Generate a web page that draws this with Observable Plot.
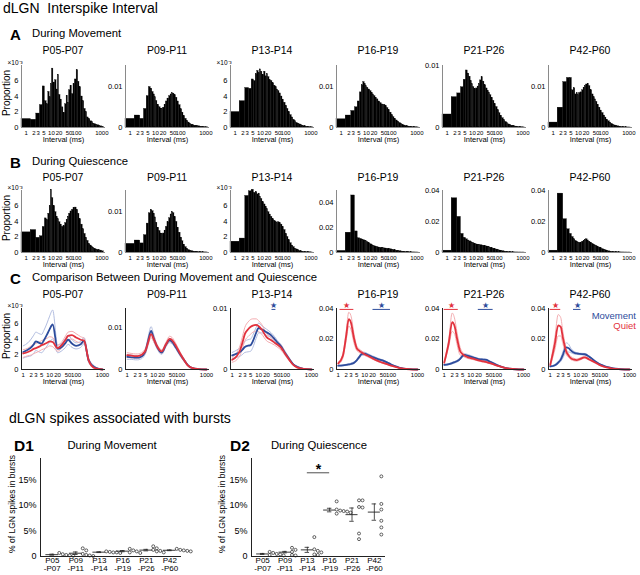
<!DOCTYPE html>
<html><head><meta charset="utf-8">
<script src="https://cdn.jsdelivr.net/npm/d3@7"></script>
<script src="https://cdn.jsdelivr.net/npm/@observablehq/plot@0.6"></script>
<style>
body{margin:0;background:#fff;}
#root{position:relative;width:640px;height:575px;overflow:hidden;font-family:"Liberation Sans",Arial,Helvetica,sans-serif;color:#000;background:#fff;}
.t{position:absolute;white-space:pre;line-height:1;}
</style></head><body><div id="root"></div>
<script>
// ---------------- DATA ----------------
const groups = ["P05-P07","P09-P11","P13-P14","P16-P19","P21-P26","P42-P60"];
const xTicks = [1,2,3,5,10,20,50,100,1000];
// histogram bin edges (ms)
const binEdges = [0.65,1.5,2.5,3.5,4.5,5.5,6.5,7.5,8.5,9.5,10.5,12,14,16,18,20,23,26,30,35,40,45,50,57,65,75,85,100,115,130,150,175,200,230,260,300,350,400,450,500,570,650,750,850,1000,1200];
// A: During Movement, proportion x 1e-3 per bin
const moveP05 = [1.1,1.0,1.8,2.9,5.3,3.4,3.0,4.6,3.9,5.6, 7.6,5.8,6.1,4.9,6.8,4.2,3.6,2.6,1.9,3.0, 4.1,3.2,4.8,5.4,4.3,5.6,6.2,7.4,5.9,5.2, 4.0,3.4,2.4,2.0,1.3,1.1,0.8,0.7,0.5,0.45, 0.35,0.3,0.25,0.15,0.1];
const moveP09 = [2.1,2.9,2.1,4.5,7.6,9.8,9.4,8.6,8.0,7.3, 6.4,5.5,4.9,4.6,4.5,4.8,5.5,6.3,7.0,7.6, 8.0,8.3,8.2,7.8,7.2,6.3,5.4,4.4,3.6,2.8, 2.1,1.6,1.2,0.9,0.7,0.55,0.45,0.4,0.3,0.3, 0.2,0.2,0.12,0.1,0.05];
const moveP13 = [2.0,3.4,5.1,5.0,6.2,6.0,6.9,7.3,7.0,7.5, 7.2,6.8,7.2,6.6,6.9,6.5,6.1,6.0,5.7,5.4, 5.2,4.9,4.7,4.4,4.0,3.6,3.2,2.8,2.4,2.0, 1.6,1.3,1.0,0.8,0.6,0.5,0.4,0.3,0.25,0.2, 0.15,0.1,0.08,0.05,0.03];
const moveP16 = [2.0,2.9,4.0,4.9,6.3,8.5,10.2,11.0,10.5,10.0, 9.6,9.2,8.8,8.4,8.0,7.6,7.2,6.8,6.3,5.9, 5.6,5.4,5.5,5.2,4.7,4.2,3.6,3.0,2.5,2.1, 1.7,1.4,1.1,0.9,0.7,0.5,0.4,0.3,0.25,0.2, 0.15,0.1,0.08,0.05,0.03];
const moveP21 = [2.1,4.9,5.5,6.5,7.7,9.2,8.7,8.2,7.5,7.0, 6.5,6.2,6.3,6.6,7.0,7.6,8.1,7.4,6.8,6.3, 5.9,5.6,5.2,4.8,4.3,3.8,3.3,2.8,2.3,1.9, 1.5,1.2,0.9,0.7,0.5,0.4,0.3,0.25,0.2,0.15, 0.1,0.08,0.05,0.03,0.02];
const moveP42 = [1.2,4.8,11.0,12.0,12.0,9.0,9.5,8.0,8.3,7.8, 8.3,8.5,9.0,9.6,10.0,10.4,10.6,10.0,9.0,8.0, 7.3,6.8,6.2,5.5,4.8,4.1,3.5,2.9,2.4,1.9, 1.5,1.2,0.9,0.7,0.5,0.4,0.3,0.22,0.16,0.12, 0.09,0.06,0.04,0.02,0.01];
// B: During Quiescence
const quietP05 = [2.6,2.9,1.9,2.1,3.3,4.4,4.2,5.0,6.0,8.1, 7.0,6.0,5.2,4.6,4.3,3.9,3.6,3.3,3.4,3.8, 4.2,4.6,5.0,5.3,5.5,5.7,5.8,5.5,5.0,4.3, 3.6,3.0,2.4,1.9,1.5,1.1,0.9,0.7,0.6,0.5, 0.4,0.35,0.3,0.25,0.15];
const quietP09 = [2.1,2.9,2.2,4.2,7.0,9.5,10.3,10.0,9.4,8.5, 7.2,6.0,5.2,4.6,4.4,4.6,5.3,6.2,7.3,8.3, 9.2,9.8,9.5,8.6,7.4,6.0,4.8,3.6,2.7,1.9, 1.3,0.9,0.6,0.45,0.35,0.25,0.2,0.15,0.12,0.1, 0.08,0.06,0.04,0.03,0.02];
const quietP13 = [1.4,1.8,7.3,7.9,8.1,7.7,7.8,7.5,7.6,7.2, 6.9,6.5,6.2,5.9,5.6,5.2,4.9,4.6,4.3,4.1, 3.9,3.8,3.9,3.8,3.6,3.3,2.9,2.4,2.0,1.6, 1.2,0.9,0.7,0.5,0.4,0.3,0.2,0.15,0.1,0.08, 0.06,0.04,0.03,0.02,0.01];
const quietP16 = [1.3,16,46,17,11.5,11.0,10.5,10.0,9.5,9.0, 8.3,7.5,6.6,6.0,5.5,5.0,4.6,4.3,4.0,3.8, 3.6,3.4,3.3,3.2,3.0,2.8,2.6,2.3,2.0,1.8, 1.5,1.3,1.1,0.9,0.7,0.5,0.4,0.3,0.25,0.2, 0.15,0.1,0.07,0.05,0.02];
const quietP21 = [1.2,35,23,12,9.5,8.5,7.8,7.2,6.8,6.4, 6.0,5.6,5.2,5.0,4.8,4.7,4.6,4.4,4.2,3.9, 3.6,3.4,3.1,2.8,2.5,2.2,1.9,1.6,1.3,1.1, 0.9,0.7,0.5,0.4,0.3,0.2,0.15,0.1,0.08,0.06, 0.04,0.03,0.02,0.01,0.01];
const quietP42 = [1.2,38,21.5,15,12,10,8.5,7.5,7.0,6.5, 6.2,6.4,7.0,7.6,8.2,8.5,7.8,7.0,6.3,5.6, 5.0,4.6,4.2,3.7,3.2,2.7,2.2,1.8,1.4,1.1, 0.8,0.6,0.45,0.35,0.25,0.2,0.15,0.1,0.08,0.06, 0.04,0.03,0.02,0.01,0.01];
// C: mean +/- sem curves, proportion x 1e-3
const cInterval = [1,1.5,2,2.5,3,4,5,6,8,10,13,20,30,40,50,70,100,150,200,300,500,1000];
const cMoveP05 = [2.3,2.6,2.9,3.3,3.7,3.5,3.4,3.8,4.6,5.3,5.9,2.7,3.0,3.5,3.9,3.4,3.1,3.3,3.8,1.2,0.3,0];
const cMoveSemP05 = [0.8,0.9,1.1,1.2,1.2,1.2,1.2,1.3,1.5,1.7,1.9,0.5,0.5,0.6,0.6,0.5,0.4,0.4,0.4,0.3,0.15,0];
const cQuietP05 = [2.1,2.3,2.5,2.7,2.8,3.0,3.2,3.3,3.5,3.7,3.6,2.8,3.3,3.9,4.4,4.5,4.2,3.9,3.8,1.2,0.2,0];
const cQuietSemP05 = [0.5,0.5,0.6,0.6,0.6,0.6,0.6,0.6,0.6,0.6,0.6,0.4,0.4,0.5,0.5,0.5,0.5,0.4,0.3,0.2,0.1,0];
const cMoveP09 = [3.0,2.9,2.8,2.8,2.9,3.4,4.5,6.5,9.2,7.5,5.6,4.0,6.0,6.9,6.6,5.2,3.6,2.0,1.0,0.3,0.1,0];
const cMoveSemP09 = [0.6,0.5,0.5,0.5,0.5,0.5,0.6,0.8,1.0,0.8,0.5,0.4,0.5,0.5,0.5,0.4,0.4,0.3,0.2,0.1,0.05,0];
const cQuietP09 = [3.4,3.3,3.2,3.2,3.3,3.8,4.6,6.2,8.4,7.3,5.7,4.3,6.1,7.3,7.0,5.6,3.8,2.0,0.9,0.3,0.1,0];
const cQuietSemP09 = [0.6,0.5,0.5,0.5,0.5,0.5,0.6,0.7,0.8,0.7,0.5,0.4,0.5,0.6,0.6,0.5,0.4,0.3,0.2,0.1,0.05,0];
const cMoveP13 = [2.3,2.6,2.9,3.3,3.7,3.9,4.0,4.6,6.0,6.8,6.6,6.1,5.6,5.0,4.5,3.8,2.7,1.6,0.9,0.4,0.1,0];
const cMoveSemP13 = [0.5,0.6,0.7,0.8,0.9,1.0,1.0,1.0,0.9,0.8,0.6,0.5,0.4,0.4,0.3,0.3,0.3,0.2,0.1,0.1,0.05,0];
const cQuietP13 = [1.6,2.2,3.2,4.6,5.8,6.6,7.0,7.2,7.3,7.1,6.6,5.3,4.8,4.4,4.1,3.6,2.6,1.5,0.8,0.3,0.1,0];
const cQuietSemP13 = [0.4,0.6,0.8,1.0,1.1,1.2,1.2,1.1,1.0,0.9,0.8,0.6,0.5,0.4,0.4,0.4,0.3,0.2,0.1,0.1,0.05,0];
const cMoveP16 = [2.5,2.7,3.0,3.3,3.6,4.5,6.0,7.8,10.2,10.4,9.6,8.2,7.0,6.3,5.8,4.7,3.3,2.0,1.3,0.6,0.2,0];
const cMoveSemP16 = [0.3,0.3,0.4,0.4,0.5,0.6,0.7,0.8,0.9,0.9,0.8,0.7,0.6,0.5,0.5,0.4,0.3,0.2,0.1,0.1,0.05,0];
const cQuietP16 = [4,9,22,33,31,20,14,12.5,11,10,9,7.3,5.8,4.9,4.3,3.5,2.6,1.7,1.1,0.5,0.15,0];
const cQuietSemP16 = [0.8,1.5,3,4.5,4.5,3,1.5,1.2,1,0.8,0.7,0.6,0.5,0.4,0.4,0.3,0.3,0.2,0.1,0.1,0.05,0];
const cMoveP21 = [3,3.5,4.2,4.8,5.4,7,9,9.5,9,8.5,7.8,6.8,6.5,6.3,5.4,4.2,2.9,1.7,1.1,0.5,0.15,0];
const cMoveSemP21 = [0.4,0.4,0.5,0.5,0.6,0.7,0.8,0.8,0.8,0.7,0.6,0.5,0.5,0.5,0.4,0.4,0.3,0.2,0.1,0.1,0.05,0];
const cQuietP21 = [4.5,18,31,28,21,12,10,9,8,7.5,7,6,5.3,4.8,4.3,3.5,2.6,1.7,1.1,0.5,0.15,0];
const cQuietSemP21 = [1,2.5,6,5,4,2.5,1.2,1,0.8,0.7,0.6,0.5,0.5,0.4,0.4,0.3,0.3,0.2,0.1,0.1,0.05,0];
const cMoveP42 = [2,2.8,4.5,6.5,9.5,14.5,14,12.5,11,10.5,10.2,10,8.4,6.8,5.4,3.8,2.6,1.5,1.0,0.5,0.15,0];
const cMoveSemP42 = [0.3,0.5,0.8,1.2,2,3,2.5,1.5,0.8,0.6,0.5,0.5,0.5,0.4,0.4,0.3,0.2,0.1,0.1,0.05,0.02,0];
const cQuietP42 = [3,17,29,28,21,12,9,7.5,6.5,6.2,6.8,8.0,6.6,5.5,4.6,3.2,2.1,1.3,0.8,0.4,0.1,0];
const cQuietSemP42 = [1,4,7,6,4,2,1.2,1,0.8,0.7,0.7,0.6,0.5,0.4,0.4,0.3,0.2,0.1,0.1,0.05,0.02,0];
// C significance bars: panel index, series, interval range (ms)
const cSigPanel = [2, 3, 3, 4, 4, 5, 5];
const cSigSeries = ["Movement","Quiet","Movement","Quiet","Movement","Quiet","Movement"];
const cSigFrom = [32, 1.17, 20.7, 1.0, 19.5, 1.0, 7.6];
const cSigTo = [45, 3.9, 95, 3.4, 71, 2.5, 14.6];
// D: % of spikes in bursts (per animal), group means and SEM
const d1Points = [[0.7,0.45,0.3,0.2,0.15],[1.6,1.2,0.5,0.3,0.2,0.1],[1.0,0.9,0.8,0.7,0.8],[1.5,1.2,1.0,0.8,0.7],[2.0,1.6,1.3,1.0,0.8,1.1],[1.5,1.3,1.2,1.1,1.0]];
const d1Mean = [0.36,0.64,0.85,1.05,1.25,1.22];
const d1Sem = [0.1,0.25,0.08,0.12,0.15,0.08];
const d2Points = [[0.9,0.7,0.5,0.4,0.3,0.2],[1.7,1.3,0.9,0.3,0.2],[3.8,1.4,1.1,0.8,0.4,0.3],[10.8,9.2,9.0,8.8,8.9,8.6,8.4],[11.0,11.0,9.6,9.7,4.5,3.4],[15.7,10.3,9.2,7.0,5.7,4.3]];
const d2Mean = [0.5,0.85,1.3,9.1,8.2,8.7];
const d2Sem = [0.1,0.15,0.5,0.35,1.3,1.6];
const d2SigFrom = 2, d2SigTo = 3, d2SigLevel = 16.4;

// ---------------- LAYOUT ----------------
const root = document.getElementById("root");
const FONT = '"Liberation Sans", Arial, Helvetica, sans-serif';
const BLUE = "#2d4c9c", RED = "#e2323d", LBLUE = "#b2bde0", LRED = "#f4adb1";
function txt(s, x, y, o = {}) {
  const d = document.createElement("div");
  d.className = "t"; d.textContent = s;
  d.style.left = x + "px"; d.style.top = y + "px";
  d.style.fontSize = (o.size || 10) + "px";
  if (o.bold) d.style.fontWeight = "bold";
  if (o.color) d.style.color = o.color;
  const ax = o.anchor === "middle" ? "-50%" : o.anchor === "end" ? "-100%" : "0";
  d.style.transform = o.rotate ? `translate(-50%,-50%) rotate(${o.rotate}deg)` : `translate(${ax},-50%)`;
  root.appendChild(d);
}
function place(svg, x, y) {
  svg.style.position = "absolute"; svg.style.left = x + "px"; svg.style.top = y + "px";
  // tighten the dense log-axis tick labels
  svg.querySelectorAll('[aria-label="x tick label"] text').forEach(t => { t.style.letterSpacing = "-0.45px"; });
  root.appendChild(svg);
}
const panelX = [21, 125, 230, 336, 442, 548];
const PW = 84;
const ML = 30, MR = 8, MT = 14, MB = 22;
const styleObj = {background: "transparent", overflow: "visible", fontFamily: FONT, fontSize: "7px", color: "#000"};
const XH = [0.65, 1400];
const XC = [0.86, 1300];

function yCfg(kind) {
  if (kind === "e3") return {domain: [0, 0.008], ticks: [0, 0.002, 0.004, 0.006], fmt: d => String(Math.round(d * 1000)), e3: true};
  if (kind === "01") return {domain: [0, 0.015], ticks: [0, 0.005, 0.01], fmt: d => d === 0 ? "0" : d === 0.005 ? "" : String(d)};
  if (kind === "01c") return {domain: [0, 0.0145], ticks: [0, 0.005, 0.01], fmt: d => d === 0 ? "0" : d === 0.005 ? "" : String(d)};
  if (kind === "01t") return {domain: [0, 0.01], ticks: [0, 0.005, 0.01], fmt: d => d === 0 ? "0" : d === 0.005 ? "" : String(d)};
  if (kind === "05") return {domain: [0, 0.05], ticks: [0, 0.02, 0.04], fmt: d => d === 0 ? "0" : String(d)};
  return {domain: [0, 0.04], ticks: [0, 0.02, 0.04], fmt: d => d === 0 ? "0" : String(d)};
}
function axesMarks(cfg) {
  return [
    // x tick labels drawn through the x scale (log axis would otherwise drop 5 and 50)
    Plot.text(xTicks, {x: d => d, text: d => String(d), frameAnchor: "bottom", lineAnchor: "top", dy: 3.5, fontSize: 6, fill: "#000", ariaLabel: "x tick label"}),
    Plot.axisY({ticks: cfg.ticks, tickSize: 0, tickPadding: 3, fontSize: 7.5, fill: "#000", tickFormat: cfg.fmt, label: null}),
    Plot.text(["Interval (ms)"], {text: d => d, frameAnchor: "bottom", dy: 14.5, fontSize: 7.5, fill: "#000"}),
    cfg.e3 ? Plot.text(["×10⁻³"], {text: d => d, frameAnchor: "top-left", dx: -14, dy: -5, fontSize: 6.5, fill: "#000"}) : null
  ];
}
function histPanel(vals, kind, left, top, PH) {
  const cfg = yCfg(kind);
  const rows = vals.map((v, i) => ({x1: binEdges[i], x2: binEdges[i + 1], y: v * 1e-3}));
  const svg = Plot.plot({
    width: ML + PW + MR, height: MT + PH + MB,
    marginLeft: ML, marginRight: MR, marginTop: MT, marginBottom: MB,
    style: styleObj,
    x: {type: "log", domain: XH, axis: null},
    y: {domain: cfg.domain},
    marks: [
      Plot.rectY(rows, {x1: "x1", x2: "x2", y1: 0, y2: "y", fill: "black", stroke: "black", strokeWidth: 0.3}),
      Plot.ruleX([XH[0]], {stroke: "#8a8a8a", strokeWidth: 1}),
      Plot.ruleY([0], {stroke: "#8a8a8a"}),
      ...axesMarks(cfg)
    ]
  });
  place(svg, left - ML, top - MT);
}
function cPanel(k, mv, mvs, qt, qts, kind, left, top, PH) {
  const cfg = yCfg(kind);
  const mk = (arr, sem, sgn) => cInterval.map((x, j) => ({x, y: (arr[j] + sgn * (sem ? sem[j] : 0)) * 1e-3}));
  const sig = cSigPanel.map((p, j) => ({p, s: cSigSeries[j], a: cSigFrom[j], b: cSigTo[j]})).filter(d => d.p === k);
  const top0 = cfg.domain[1];
  const lineOpts = {x: "x", y: "y", curve: "monotone-x"};
  const svg = Plot.plot({
    width: ML + PW + MR, height: MT + PH + MB,
    marginLeft: ML, marginRight: MR, marginTop: MT, marginBottom: MB,
    style: styleObj,
    x: {type: "log", domain: XC, axis: null},
    y: {domain: cfg.domain},
    marks: [
      Plot.line(mk(mv, mvs, 1), {...lineOpts, stroke: LBLUE, strokeWidth: 1}),
      Plot.line(mk(mv, mvs, -1), {...lineOpts, stroke: LBLUE, strokeWidth: 1}),
      Plot.line(mk(qt, qts, 1), {...lineOpts, stroke: LRED, strokeWidth: 1}),
      Plot.line(mk(qt, qts, -1), {...lineOpts, stroke: LRED, strokeWidth: 1}),
      Plot.line(mk(mv, null, 0), {...lineOpts, stroke: BLUE, strokeWidth: 1.8}),
      Plot.line(mk(qt, null, 0), {...lineOpts, stroke: RED, strokeWidth: 1.8}),
      Plot.ruleX([XC[0]], {stroke: "#222"}),
      Plot.ruleY([0], {stroke: "#222"}),
      Plot.ruleY(sig, {y: () => top0 * 0.985, x1: "a", x2: "b", stroke: d => d.s === "Quiet" ? RED : BLUE, strokeWidth: 1}),
      Plot.text(sig, {x: d => Math.sqrt(d.a * d.b), y: () => top0, text: () => "★", dy: -3, fontSize: 8, fill: d => d.s === "Quiet" ? RED : BLUE}),
      ...axesMarks(cfg)
    ]
  });
  place(svg, left - ML, top - MT);
}
function dPanel(pts, means, sems, left, top, fw, sig) {
  const DML = 40, DMT = 10, FH = 98, DMB = 19, DMR = 6;
  const bw = fw / 6;
  const rows = [];
  pts.forEach((arr, i) => {
    const placed = [];
    [...arr].sort((a, b) => b - a).forEach(v => {
      let k = 0;
      while (placed.some(p => p.k === k && Math.abs(p.v - v) < 0.6)) k++;
      placed.push({k, v});
      rows.push({i, v, k});
    });
  });
  const stats = means.map((m, i) => ({i, m, lo: m - sems[i], hi: m + sems[i]}));
  const marks = [
    Plot.ruleY([0], {stroke: "#222"}),
    Plot.ruleX([-0.5], {stroke: "#222"}),
    Plot.ruleX(stats, {x: "i", y1: "lo", y2: "hi", stroke: "#222", strokeWidth: 0.8}),
    Plot.ruleY(stats, {y: "lo", x1: d => d.i - 0.1, x2: d => d.i + 0.1, stroke: "#222", strokeWidth: 0.8}),
    Plot.ruleY(stats, {y: "hi", x1: d => d.i - 0.1, x2: d => d.i + 0.1, stroke: "#222", strokeWidth: 0.8}),
    Plot.ruleY(stats, {y: "m", x1: d => d.i - 0.27, x2: d => d.i + 0.27, stroke: "#222", strokeWidth: 0.9}),
    Plot.dot(rows, {x: d => d.i + (7 + 3.5 * d.k) / bw, y: "v", r: 1.5, stroke: "#222", strokeWidth: 0.7, fill: "none"}),
    Plot.axisY({ticks: [0, 5, 10, 15], tickFormat: d => d === 0 ? "0" : d + "%", tickSize: 0, tickPadding: 4, fontSize: 9, fill: "#000", label: null}),
    Plot.text(groups, {x: (d, i) => i, text: d => d.split("-")[0], frameAnchor: "bottom", dy: 6.8, fontSize: 8, fill: "#000"}),
    Plot.text(groups, {x: (d, i) => i, text: d => "-" + d.split("-")[1], frameAnchor: "bottom", dy: 14.8, fontSize: 8, fill: "#000"})
  ];
  if (sig) {
    marks.push(Plot.ruleY([sig.level], {x1: () => sig.from, x2: () => sig.to, stroke: "#222", strokeWidth: 0.8}));
    marks.push(Plot.text(["*"], {x: () => (sig.from + sig.to) / 2, y: () => sig.level, text: d => d, dy: -3, fontSize: 14, fontWeight: "bold", fill: "#000"}));
  }
  const svg = Plot.plot({
    width: DML + fw + DMR, height: DMT + FH + DMB,
    marginLeft: DML, marginRight: DMR, marginTop: DMT, marginBottom: DMB,
    style: {...styleObj, fontSize: "9px"},
    x: {domain: [-0.5, 5.5], axis: null},
    y: {domain: [0, 19.2]},
    marks
  });
  place(svg, left - DML, top - DMT);
}

// ---------------- DRAW ----------------
txt("dLGN  Interspike Interval", 3, 8, {size: 14});
// Row A
txt("A", 10, 34, {size: 15, bold: true});
txt("During Movement", 32, 34, {size: 11.3});
const rowATop = 65, rowAH = 62;
const moveSets = [moveP05, moveP09, moveP13, moveP16, moveP21, moveP42];
const moveKinds = ["e3", "01", "e3", "01", "01t", "01"];
moveSets.forEach((v, i) => {
  histPanel(v, moveKinds[i], panelX[i], rowATop, rowAH);
  txt(groups[i], panelX[i] + PW / 2, 50, {size: 10.5, anchor: "middle"});
});
txt("Proportion", 7, 93, {size: 10, rotate: -90});
// Row B
txt("B", 10, 162, {size: 15, bold: true});
txt("During Quiescence", 32, 162, {size: 11.3});
const rowBTop = 190, rowBH = 62;
const quietSets = [quietP05, quietP09, quietP13, quietP16, quietP21, quietP42];
const quietKinds = ["e3", "01", "e3", "05", "04", "04"];
quietSets.forEach((v, i) => {
  histPanel(v, quietKinds[i], panelX[i], rowBTop, rowBH);
  txt(groups[i], panelX[i] + PW / 2, 177, {size: 10.5, anchor: "middle"});
});
txt("Proportion", 7, 218, {size: 10, rotate: -90});
// Row C
txt("C", 10, 278, {size: 15, bold: true});
txt("Comparison Between During Movement and Quiescence", 32, 278, {size: 11.3});
const rowCTop = 308, rowCH = 61;
const cM = [cMoveP05, cMoveP09, cMoveP13, cMoveP16, cMoveP21, cMoveP42];
const cMS = [cMoveSemP05, cMoveSemP09, cMoveSemP13, cMoveSemP16, cMoveSemP21, cMoveSemP42];
const cQ = [cQuietP05, cQuietP09, cQuietP13, cQuietP16, cQuietP21, cQuietP42];
const cQS = [cQuietSemP05, cQuietSemP09, cQuietSemP13, cQuietSemP16, cQuietSemP21, cQuietSemP42];
const cKinds = ["e3", "01c", "01t", "04", "04", "04"];
groups.forEach((g, i) => {
  cPanel(i, cM[i], cMS[i], cQ[i], cQS[i], cKinds[i], panelX[i], rowCTop, rowCH);
  txt(g, panelX[i] + PW / 2, 294, {size: 10.5, anchor: "middle"});
});
txt("Proportion", 7, 336, {size: 10, rotate: -90});
txt("Movement", 636, 315.5, {size: 9.5, anchor: "end", color: BLUE});
txt("Quiet", 636, 326, {size: 9.5, anchor: "end", color: RED});
// Row D
txt("dLGN spikes associated with bursts", 9, 418, {size: 14});
txt("D1", 14, 446, {size: 15.5, bold: true});
txt("During Movement", 112, 446, {size: 11.3, anchor: "middle"});
txt("D2", 230, 446, {size: 15.5, bold: true});
txt("During Quiescence", 319, 446, {size: 11.3, anchor: "middle"});
dPanel(d1Points, d1Mean, d1Sem, 40, 458, 141, null);
dPanel(d2Points, d2Mean, d2Sem, 251, 458, 134, {from: d2SigFrom, to: d2SigTo, level: d2SigLevel});
txt("% of LGN spikes in bursts", 12, 504, {size: 8.5, rotate: -90});
txt("% of LGN spikes in bursts", 222, 504, {size: 8.5, rotate: -90});
</script></body></html>
